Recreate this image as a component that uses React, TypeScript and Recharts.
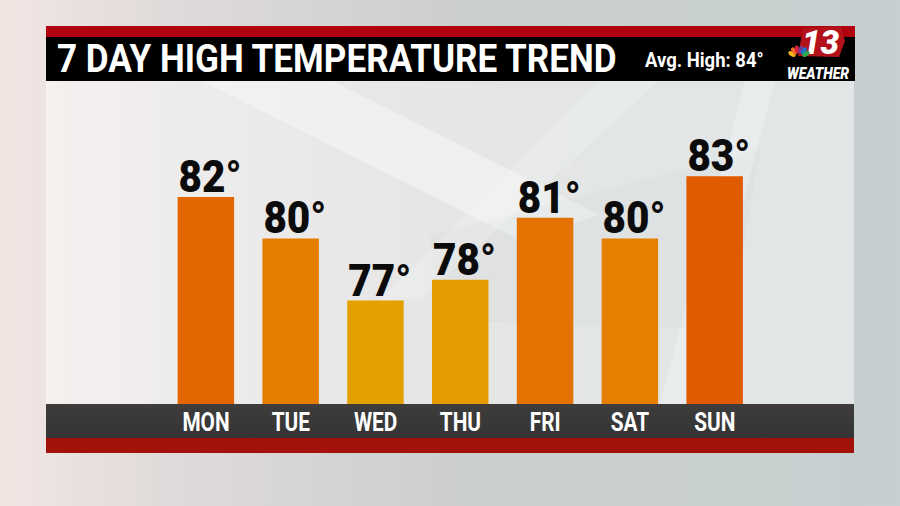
import React from "react";
import { BarChart, Bar, XAxis, YAxis, Cell, LabelList } from "recharts";

const days = ["MON", "TUE", "WED", "THU", "FRI", "SAT", "SUN"];
const highs = [82, 80, 77, 78, 81, 80, 83];
const barColors = ["#e36600", "#e57e00", "#e3a000", "#e39b00", "#e37200", "#e57f00", "#e05a00"];
const title = "7 DAY HIGH TEMPERATURE TREND";
const avgHigh = 84;

const data = days.map((day, i) => ({ day, high: highs[i] }));

const FONT = "Roboto, 'Noto Sans', sans-serif";

function DayTick({ x, y, payload }: { x?: number; y?: number; payload?: { value: string } }) {
  return (
    <g transform={`translate(${x},${(y ?? 0) + 27}) scale(0.8,1)`}>
      <text textAnchor="middle" fill="#ffffff" fontSize={26} fontWeight={700} fontFamily={FONT}>
        {payload?.value}
      </text>
    </g>
  );
}

function TempLabel(props: { x?: number; y?: number; value?: number }) {
  const { x = 0, y = 0, value } = props;
  return (
    <g transform={`translate(${x + 1},${y - 5}) scale(0.9,1)`}>
      <text fill="#0b0b0b" fontSize={45} fontWeight={900} fontFamily={FONT}>
        {value}°
      </text>
    </g>
  );
}

// white condensed text in the header, squeezed horizontally
function HeaderText({ x, y, size, sx, weight = 700, italic = false, children }: {
  x: number; y: number; size: number; sx: number; weight?: number; italic?: boolean; children: React.ReactNode;
}) {
  return (
    <g transform={`translate(${x},${y}) scale(${sx},1)`}>
      <text fill="#ffffff" fontSize={size} fontWeight={weight} fontStyle={italic ? "italic" : "normal"} fontFamily={FONT}>
        {children}
      </text>
    </g>
  );
}

function Backdrop() {
  return (
    <svg width={900} height={506} style={{ position: "absolute", left: 0, top: 0 }}>
      <defs>
        <linearGradient id="bg" x1="0" y1="0" x2="1" y2="0">
          <stop offset="0" stopColor="#f2e6e3" />
          <stop offset="0.18" stopColor="#e0dbda" />
          <stop offset="0.5" stopColor="#cdcfcf" />
          <stop offset="1" stopColor="#c6d0d0" />
        </linearGradient>
        <linearGradient id="band" x1="0" y1="0" x2="0" y2="1">
          <stop offset="0" stopColor="#3e3d3c" />
          <stop offset="1" stopColor="#343434" />
        </linearGradient>
      </defs>
      <rect x={0} y={0} width={900} height={506} fill="url(#bg)" />
      {/* abstract shapes behind the panel */}
      <polygon points="200,80 330,80 600,215 520,240" fill="#ffffff" opacity={0.35} />
      <polygon points="430,235 760,150 730,330 440,320" fill="#8f9a9a" opacity={0.14} />
      <polygon points="600,80 660,80 420,300 380,300" fill="#ffffff" opacity={0.18} />
      <polygon points="745,80 775,80 690,404 660,404" fill="#ffffff" opacity={0.25} />
      {/* light panel */}
      <rect x={46} y={80} width={808} height={324} fill="#ffffff" opacity={0.48} />
      {/* header */}
      <rect x={46} y={26} width={809} height={12} fill="#b0000f" />
      <rect x={46} y={37} width={809} height={44} fill="#000000" />
      {/* bottom bands */}
      <rect x={46} y={404} width={808} height={34} fill="url(#band)" />
      <rect x={46} y={438} width={808} height={15} fill="#a3110b" />
      <HeaderText x={57} y={72} size={39} sx={0.9}>{title}</HeaderText>
      <HeaderText x={645} y={67} size={21} sx={0.88}>Avg. High: {avgHigh}°</HeaderText>
      {/* station logo */}
      <g>
        <path d="M798 56 L803 28 L841 26 L845 41 L839 57 Z" fill="#b3121a" />
        <HeaderText x={802} y={54} size={33} sx={1.0} weight={900} italic>13</HeaderText>
        <g transform="translate(799,57)">
          <ellipse cx={-7} cy={-3} rx={2.2} ry={4} transform="rotate(-60 -7 -3)" fill="#f6b21b" />
          <ellipse cx={-5} cy={-6} rx={2.2} ry={4} transform="rotate(-35 -5 -6)" fill="#ef6b22" />
          <ellipse cx={-2} cy={-7.5} rx={2.2} ry={4} transform="rotate(-12 -2 -7.5)" fill="#d8203a" />
          <ellipse cx={2} cy={-7.5} rx={2.2} ry={4} transform="rotate(12 2 -7.5)" fill="#6a3d97" />
          <ellipse cx={5} cy={-6} rx={2.2} ry={4} transform="rotate(35 5 -6)" fill="#1a73c8" />
          <ellipse cx={7} cy={-3} rx={2.2} ry={4} transform="rotate(60 7 -3)" fill="#2fa84f" />
        </g>
        <HeaderText x={787} y={79} size={16} sx={0.87} weight={900} italic>WEATHER</HeaderText>
      </g>
    </svg>
  );
}

export default function App() {
  return (
    <div style={{ position: "fixed", left: 0, top: 0, width: 900, height: 506, overflow: "hidden" }}>
      <Backdrop />
      <div style={{ position: "absolute", left: 0, top: 0 }}>
        <BarChart
          width={900}
          height={506}
          data={data}
          margin={{ top: 155.6, right: 142.8, bottom: 72, left: 163.6 }}
          barSize={56.5}
        >
          <XAxis
            dataKey="day"
            axisLine={false}
            tickLine={false}
            tickSize={0}
            tickMargin={0}
            height={30}
            interval={0}
            tick={<DayTick />}
          />
          <YAxis hide domain={[72, 84]} allowDataOverflow />
          <Bar dataKey="high" isAnimationActive={false}>
            {data.map((d, i) => (
              <Cell key={d.day} fill={barColors[i]} />
            ))}
            <LabelList dataKey="high" content={<TempLabel />} />
          </Bar>
        </BarChart>
      </div>
    </div>
  );
}
